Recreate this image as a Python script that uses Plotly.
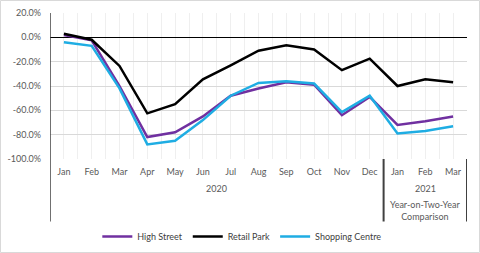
import plotly.graph_objects as go

months = ["Jan", "Feb", "Mar", "Apr", "May", "Jun", "Jul", "Aug", "Sep", "Oct", "Nov", "Dec",
          "Jan", "Feb", "Mar"]
high_street = [2, -2.5, -40, -82, -78, -65, -48, -42, -37, -39, -64, -49, -72, -69, -65]
retail_park = [3, -2, -23.5, -62.5, -55, -34.5, -23, -11, -6.5, -10, -27, -17.5, -40, -34.5, -37]
shopping_centre = [-4, -7, -42, -88, -85, -68, -48, -37.5, -36, -38, -61.5, -48, -79, -77, -73]
y_ticks = [20, 0, -20, -40, -60, -80, -100]
y_tick_text = ["20.0%", "0.0%", "-20.0%", "-40.0%", "-60.0%", "-80.0%", "-100.0%"]
groups = [("2020", 5.5, ""), ("2021", 13, "Year-on-Two-Year<br>Comparison")]

xs = list(range(len(months)))
font_family = "Lato, 'Open Sans', sans-serif"
txt = "#595959"

fig = go.Figure()
for name, vals, color in [("High Street", high_street, "#7030A0"),
                          ("Retail Park", retail_park, "#000000"),
                          ("Shopping Centre", shopping_centre, "#1FADE3")]:
    fig.add_trace(go.Scatter(x=xs, y=vals, name=name, mode="lines",
                             line=dict(color=color, width=2.5)))

# plot: left 50, right 467, top 13, bottom 159 (px)
W, H = 480, 253
L, R, T, B = 50, 13, 13, 94
pw = W - L - R
ph = H - T - B

def px_x(x):
    return (x - L) / pw

def px_y(y):
    return (H - B - y) / ph

fig.update_layout(
    width=W, height=H,
    margin=dict(l=L, r=R, t=T, b=B, autoexpand=False),
    paper_bgcolor="white", plot_bgcolor="white",
    font=dict(family=font_family, size=9, color=txt),
    showlegend=True,
    legend=dict(orientation="h", x=0.46, xanchor="center", y=px_y(236.5), yanchor="middle",
                font=dict(size=9, color="#404040"), itemwidth=30, tracegroupgap=0),
    xaxis=dict(range=[-0.5, len(months) - 0.5], tickmode="array", tickvals=xs, ticktext=months,
               showgrid=True, gridcolor="#efefef", gridwidth=1, showline=False, zeroline=False,
               ticks="", ticklabelstandoff=6,
               minor=dict(tick0=-0.5, dtick=1, showgrid=True, gridcolor="#efefef", gridwidth=1),
               fixedrange=True),
    yaxis=dict(range=[-100, 20], tickmode="array", tickvals=y_ticks, ticktext=y_tick_text,
               showgrid=True, gridcolor="#d9d9d9", gridwidth=1, zeroline=True,
               zerolinecolor="#000000", zerolinewidth=1, showline=False, ticks="",
               ticklabelstandoff=8),
)

sep_bottom = px_y(221.5)
shapes = [
    dict(type="line", xref="x", yref="paper", x0=-0.5, x1=-0.5, y0=1, y1=sep_bottom,
         line=dict(color="#404040", width=1.5)),
    dict(type="line", xref="x", yref="paper", x0=11.5, x1=11.5, y0=0, y1=sep_bottom,
         line=dict(color="#404040", width=2)),
    dict(type="line", xref="x", yref="paper", x0=14.5, x1=14.5, y0=0, y1=sep_bottom,
         line=dict(color="#404040", width=2)),
    dict(type="rect", xref="paper", yref="paper", x0=px_x(0.5), x1=px_x(479.5),
         y0=px_y(252.5), y1=px_y(0.5), line=dict(color="#d9d9d9", width=1)),
]
fig.update_layout(shapes=shapes)

annotations = []
for label, xc, sub in groups:
    annotations.append(dict(x=xc, y=px_y(188), xref="x", yref="paper", text=label,
                            showarrow=False, font=dict(size=9, color=txt),
                            xanchor="center", yanchor="middle"))
    if sub:
        annotations.append(dict(x=xc, y=px_y(210), xref="x", yref="paper", text=sub,
                                showarrow=False, font=dict(size=9, color=txt),
                                xanchor="center", yanchor="middle"))
fig.update_layout(annotations=annotations)

fig.write_html("out.html")
